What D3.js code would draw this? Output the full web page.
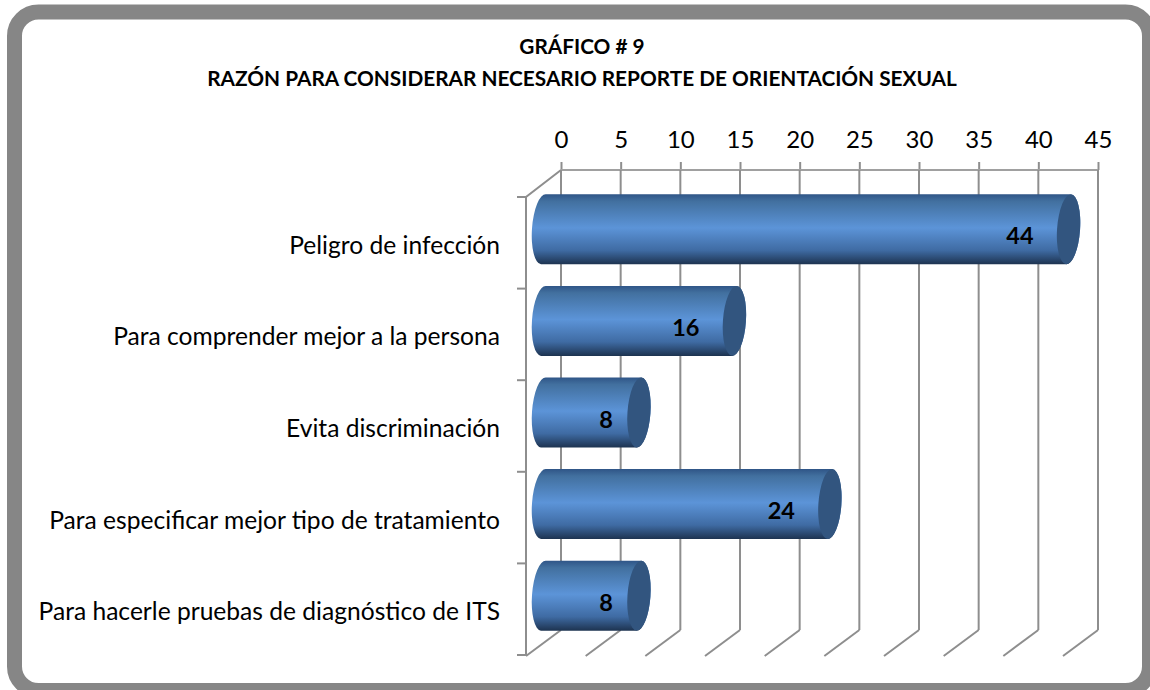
<!DOCTYPE html>
<html>
<head>
<meta charset="utf-8">
<script src="https://cdn.jsdelivr.net/npm/d3@7"></script>
<style>
html, body { margin: 0; padding: 0; background: #fff; overflow: hidden; }
text { font-family: Lato, "Open Sans", sans-serif; fill: #000; }
</style>
</head>
<body>
<script>
var titleLines = ['GRÁFICO # 9', 'RAZÓN PARA CONSIDERAR NECESARIO REPORTE DE ORIENTACIÓN SEXUAL'];
var categories = [
    'Peligro de infección',
    'Para comprender mejor a la persona',
    'Evita discriminación',
    'Para especificar mejor tipo de tratamiento',
    'Para hacerle pruebas de diagnóstico de ITS'
];
var values = [44, 16, 8, 24, 8];
var xTicks = [0, 5, 10, 15, 20, 25, 30, 35, 40, 45];

var width = 1150;
var height = 690;

// depth of the fake 3d box
var depthX = 35;
var depthY = 27;
var wallTop = 170;
var wallBottom = 630;
var gridColor = '#8e8e8e';

var svg = d3.select('body').append('svg')
        .attr('width', width)
        .attr('height', height)
;

var defs = svg.append('defs');
var grad = defs.append('linearGradient')
        .attr('id', 'cyl')
        .attr('x1', 0).attr('y1', 0)
        .attr('x2', 0).attr('y2', 1)
;
grad.append('stop').attr('offset', '0%').attr('stop-color', '#2f5587');
grad.append('stop').attr('offset', '10%').attr('stop-color', '#42709f');
grad.append('stop').attr('offset', '48%').attr('stop-color', '#5c94d8');
grad.append('stop').attr('offset', '80%').attr('stop-color', '#3f6ba3');
grad.append('stop').attr('offset', '100%').attr('stop-color', '#1d3350');

// frame
svg.append('rect')
        .attr('x', 14.5)
        .attr('y', 12)
        .attr('width', 1135)
        .attr('height', 678.5)
        .attr('rx', 24)
        .attr('ry', 24)
        .attr('fill', '#fff')
        .attr('stroke', '#868686')
        .attr('stroke-width', 15)
;

// title
svg.selectAll('.title')
    .data(titleLines)
    .enter().append('text')
        .attr('class', 'title')
        .attr('x', 582)
        .attr('y', function (d, i) { return 54 + i * 32; })
        .attr('text-anchor', 'middle')
        .style('font-size', '20.8px')
        .style('font-weight', 'bold')
        .text(function (d) { return d; })
;

var x = d3.scaleLinear().domain([0, 45]).range([561, 1098]);
var y = d3.scaleBand().domain(categories).range([wallTop + depthY, wallBottom + depthY - 2]).paddingInner(0).paddingOuter(0);
var barHeight = 70;
var rx = 11.5;
var tilt = 4;
var lean = 2.5;

// back wall + value axis
var grid = svg.append('g')
        .attr('transform', 'translate(0,' + wallTop + ')')
        .call(d3.axisTop(x).tickValues(xTicks).tickSize(8).tickPadding(14).tickFormat(d3.format('d')))
;
grid.select('.domain').remove();
grid.selectAll('.tick line').attr('stroke', gridColor).attr('stroke-width', 2);
grid.selectAll('.tick text').style('font-size', '24px').attr('fill', '#000');

svg.append('line')
        .attr('x1', x(0)).attr('x2', x(45))
        .attr('y1', wallTop).attr('y2', wallTop)
        .attr('stroke', '#a0a0a0')
        .attr('stroke-width', 2)
;

svg.selectAll('.wall')
    .data(xTicks)
    .enter().append('line')
        .attr('class', 'wall')
        .attr('x1', function (d) { return x(d); })
        .attr('x2', function (d) { return x(d); })
        .attr('y1', wallTop)
        .attr('y2', wallBottom)
        .attr('stroke', gridColor)
        .attr('stroke-width', 2)
;

// floor lines
svg.selectAll('.floor')
    .data(xTicks)
    .enter().append('line')
        .attr('class', 'floor')
        .attr('x1', function (d) { return x(d); })
        .attr('x2', function (d) { return x(d) - depthX; })
        .attr('y1', wallBottom)
        .attr('y2', wallBottom + depthY - 1)
        .attr('stroke', gridColor)
        .attr('stroke-width', 2)
;

// left side of box
var frontX = x(0) - depthX;
svg.append('path')
        .attr('d', 'M' + x(0) + ',' + wallTop + 'L' + frontX + ',' + (wallTop + depthY) + 'V' + (wallBottom + depthY - 2))
        .attr('fill', 'none')
        .attr('stroke', gridColor)
        .attr('stroke-width', 2)
;

var edges = categories.map(function (c) { return y(c); }).concat([y.range()[1]]);
svg.selectAll('.ytick')
    .data(edges)
    .enter().append('line')
        .attr('class', 'ytick')
        .attr('x1', frontX - 9)
        .attr('x2', frontX)
        .attr('y1', function (d) { return d; })
        .attr('y2', function (d) { return d; })
        .attr('stroke', gridColor)
        .attr('stroke-width', 2)
;

// category labels
svg.selectAll('.cat')
    .data(categories)
    .enter().append('text')
        .attr('class', 'cat')
        .attr('x', 500)
        .attr('y', function (d) { return y(d) + y.bandwidth() / 2 + 11; })
        .attr('text-anchor', 'end')
        .style('font-size', '24.6px')
        .text(function (d) { return d; })
;

// bars sit half way into the depth
var barX = function (v) { return x(v) - depthX / 2; };
var barY = function (c) { return y(c) + y.bandwidth() / 2 - depthY / 2 - barHeight / 2; };

var bars = svg.selectAll('.bar')
    .data(values)
    .enter().append('g')
        .attr('class', 'bar')
;

// the cylinder ends lean a little, as in the 3d view
bars.append('path')
        .attr('d', function (d, i) {
            var top = barY(categories[i]);
            var arc = 'A' + rx + ',' + (barHeight / 2) + ' ' + tilt + ' 0 1 ';
            return 'M' + (barX(0) + lean) + ',' + top
                + 'H' + (barX(d) + lean)
                + arc + (barX(d) - lean) + ',' + (top + barHeight)
                + 'H' + (barX(0) - lean)
                + arc + (barX(0) + lean) + ',' + top
                + 'Z';
        })
        .attr('fill', 'url(#cyl)')
;

bars.append('ellipse')
        .attr('rx', rx)
        .attr('ry', barHeight / 2)
        .attr('transform', function (d, i) {
            return 'translate(' + barX(d) + ',' + (barY(categories[i]) + barHeight / 2) + ') rotate(' + tilt + ')';
        })
        .attr('fill', '#32557f')
;

bars.append('text')
        .attr('x', function (d) { return barX(d) - (d < 10 ? 26 : 35); })
        .attr('y', function (d, i) { return barY(categories[i]) + barHeight / 2 + 15; })
        .attr('text-anchor', 'end')
        .style('font-size', '23.5px')
        .style('font-weight', 'bold')
        .text(function (d) { return d; })
;
</script>
</body>
</html>
